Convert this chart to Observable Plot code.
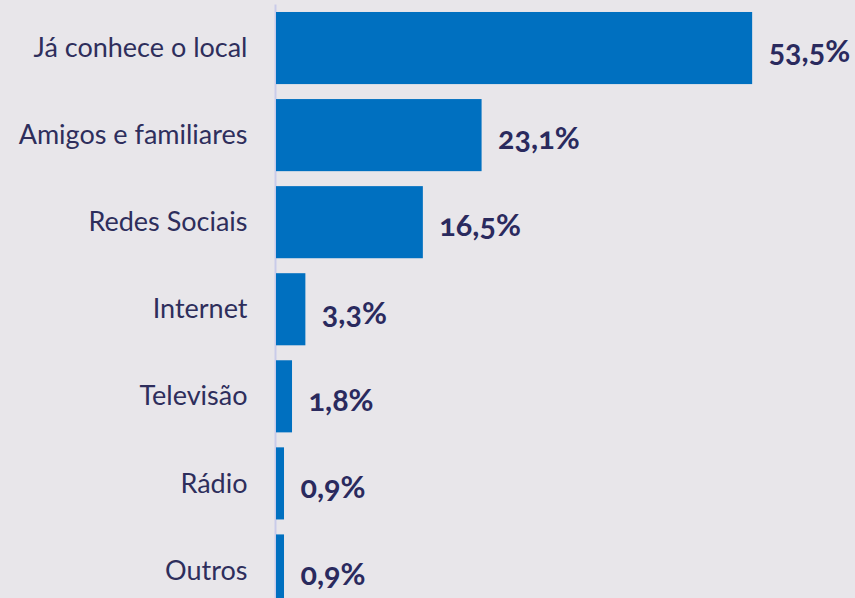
<!DOCTYPE html>
<html>
<head>
<meta charset="utf-8">
<script src="https://cdn.jsdelivr.net/npm/d3@7"></script>
<script src="https://cdn.jsdelivr.net/npm/@observablehq/plot@0.6"></script>
<style>
  html, body { margin: 0; padding: 0; background: #e8e6ea; overflow: hidden; }
  #chart svg { display: block; }
  .vals text { font-variant-numeric: oldstyle-nums; font-feature-settings: "onum" 1; }
</style>
</head>
<body>
<div id="chart"></div>
<script>
const categories = ["Já conhece o local", "Amigos e familiares", "Redes Sociais", "Internet", "Televisão", "Rádio", "Outros"];
const values = [53.5, 23.1, 16.5, 3.3, 1.8, 0.9, 0.9];
const labels = ["53,5%", "23,1%", "16,5%", "3,3%", "1,8%", "0,9%", "0,9%"];

const data = categories.map((c, i) => ({category: c, value: values[i], label: labels[i]}));

const chart = Plot.plot({
  width: 855,
  height: 614,
  marginTop: 4.5,
  marginBottom: 0,
  marginLeft: 276,
  marginRight: 45,
  style: {background: "#e8e6ea", overflow: "visible"},
  x: {domain: [0, 60], axis: null},
  y: {domain: categories, paddingInner: 0.172, paddingOuter: 0.086, round: false, axis: null},
  marks: [
    Plot.ruleX([0], {stroke: "#c9cbe9", strokeWidth: 2, dx: -1}),
    Plot.barX(data, {x: "value", y: "category", fill: "#0070c0"}),
    Plot.text(data, {x: 0, y: "category", text: "category", textAnchor: "end", dx: -29, dy: 0, fill: "#2e2e5c", fontSize: 27, fontFamily: "Lato"}),
    Plot.text(data, {x: "value", y: "category", text: "label", textAnchor: "start", dx: 16, dy: 4, fill: "#2a2a5e", fontSize: 30.5, fontWeight: "bold", fontFamily: "Lato", className: "vals"})
  ]
});
document.getElementById("chart").append(chart);
</script>
</body>
</html>
